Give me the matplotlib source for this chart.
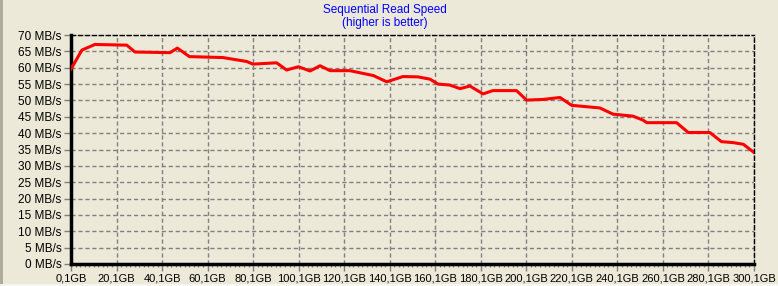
import matplotlib.pyplot as plt
import numpy as np
from matplotlib.ticker import FixedLocator

# position in GB and read speed in MB/s
pos_gb = [0.1, 4.9, 10.6, 24.6, 28.2, 43.6, 46.8, 52.1, 66.9, 77.3, 80.0, 90.4,
          94.8, 100.0, 105.1, 109.5, 113.9, 122.6, 132.9, 138.8, 145.9, 152.5,
          157.8, 161.3, 166.5, 171.0, 175.3, 181.1, 185.4, 195.8, 200.2, 207.4,
          214.9, 220.0, 232.4, 238.2, 246.9, 251.3, 253.0, 266.1, 271.2, 280.7,
          285.8, 291.0, 295.4, 300.1]
speed = [59.6, 65.4, 67.1, 66.9, 64.8, 64.6, 66.0, 63.4, 63.1, 61.9, 61.1, 61.5,
         59.3, 60.3, 59.0, 60.6, 59.1, 59.1, 57.6, 55.7, 57.3, 57.2,
         56.5, 55.0, 54.7, 53.6, 54.4, 52.0, 53.0, 53.0, 50.1, 50.3,
         50.9, 48.5, 47.7, 45.8, 45.2, 44.0, 43.2, 43.2, 40.2, 40.2,
         37.4, 37.1, 36.6, 34.1]

x_ticks = [0.1 + 20 * i for i in range(16)]
x_labels = [f"{t:.1f}".replace(".", ",") + "GB" for t in x_ticks]
y_ticks = list(range(0, 75, 5))
y_labels = [f"{v} MB/s" for v in y_ticks]

bg = "#ECE9D8"
plt.rcParams["font.family"] = ["Liberation Sans", "DejaVu Sans"]

fig = plt.figure(figsize=(7.78, 2.86), dpi=100, facecolor=bg)
ax = fig.add_axes([71 / 778, 1 - 264 / 286, 683 / 778, 229 / 286])
ax.set_facecolor(bg)

ax.plot(pos_gb, speed, color="#FF0000", linewidth=2.2, solid_joinstyle="round", zorder=3)

ax.set_xlim(0.1, 300.1)
ax.set_ylim(0, 70)
ax.set_xticks(x_ticks)
ax.set_xticklabels(x_labels)
ax.xaxis.set_minor_locator(FixedLocator(np.arange(0.1, 300.2, 2)))
ax.set_yticks(y_ticks)
ax.set_yticklabels(y_labels)

ax.grid(True, which="major", color="#808080", linestyle=(0, (3, 2)), linewidth=1)
ax.tick_params(axis="both", which="major", direction="out", length=5, width=1,
               color="#808080", labelsize=8, pad=2)
ax.tick_params(axis="y", labelsize=8.5)
ax.tick_params(axis="x", which="minor", direction="out", length=2.5, width=1,
               color="#808080")

for side in ["left", "bottom"]:
    ax.spines[side].set_linewidth(2.5)
    ax.spines[side].set_color("black")
for side in ["top", "right"]:
    ax.spines[side].set_linewidth(1)
    ax.spines[side].set_linestyle((0, (3, 2)))
    ax.spines[side].set_color("black")

fig.text(385 / 778, 1 - 10 / 286, "Sequential Read Speed", color="#0000FF",
         ha="center", va="center", fontsize=8.5)
fig.text(385 / 778, 1 - 23 / 286, "(higher is better)", color="#0000FF",
         ha="center", va="center", fontsize=8.5)

# window border on the left and bottom
fig.add_artist(plt.Line2D([1 / 778, 1 / 778], [0, 1], transform=fig.transFigure,
                          color="#ACA899", linewidth=2))
fig.add_artist(plt.Line2D([0, 1], [1.5 / 286, 1.5 / 286], transform=fig.transFigure,
                          color="#F8F7F2", linewidth=2))

fig.savefig("out.png", dpi=100, facecolor=bg)
